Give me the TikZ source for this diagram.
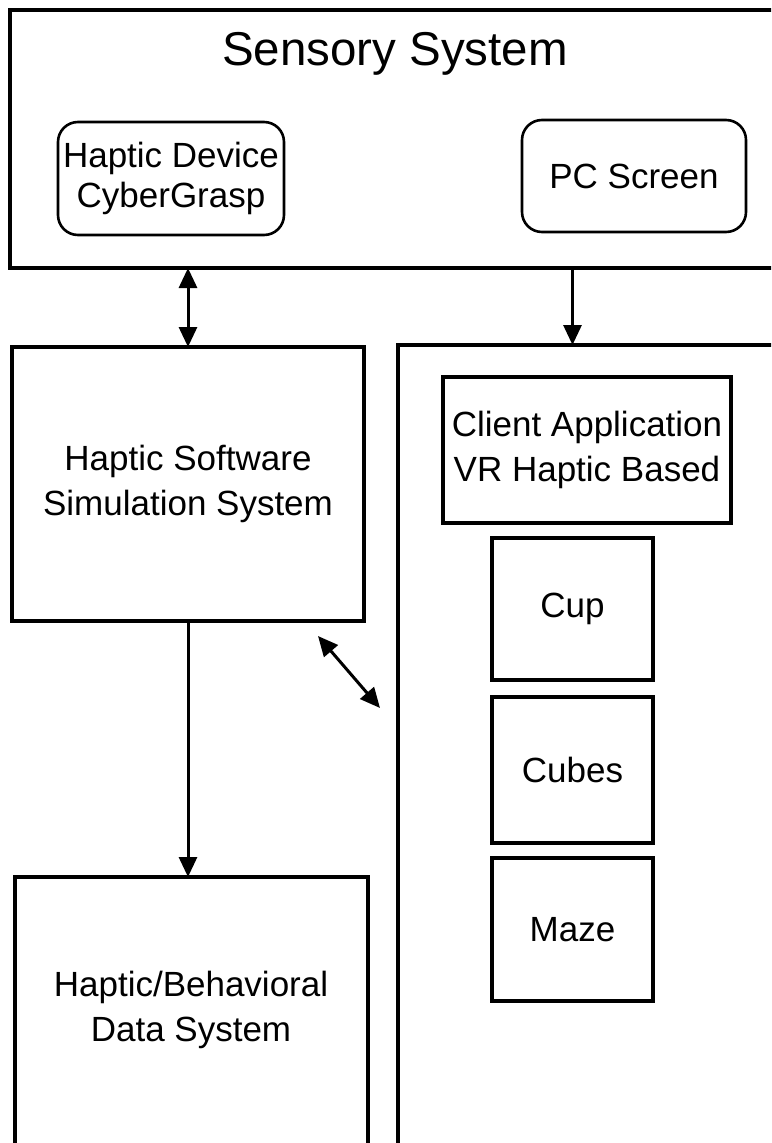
\documentclass[tikz,border=0pt]{standalone}
\usepackage{fontspec}
\setmainfont{Liberation Sans}
\usetikzlibrary{arrows.meta}
\begin{document}
\begin{tikzpicture}[x=1pt,y=-1pt,
  box/.style={draw,line width=3.2pt,inner sep=0pt,outer sep=0pt,align=center,
    font=\fontsize{35}{45}\selectfont},
  roundbox/.style={box,rounded corners=20pt,line width=2.6pt,
    font=\fontsize{35}{40}\selectfont},
  txt/.style={inner sep=0pt,align=center,font=\fontsize{35}{45}\selectfont},
  link/.style={line width=3pt},
  head/.tip={Triangle[length=20pt,width=18pt]},
  tip/.style={link,-head},
  both/.style={link,head-head}]
\useasboundingbox (0,0) rectangle (771,1143);
\clip (0,0) rectangle (771,1143);
\fill[white] (0,0) rectangle (771,1143);

% sensory system frame (runs off the right edge)
\node[box,minimum width=810pt,minimum height=258pt] (sensory) at (415,139) {};
\node[inner sep=0pt,font=\fontsize{47.5}{50}\selectfont] (title) at (395,54) {Sensory System};
\node[roundbox,minimum width=226pt,minimum height=113pt] (device) at (171,178.5)
  {Haptic Device\\CyberGrasp};
\node[roundbox,minimum width=224pt,minimum height=112pt] (screen) at (634,176)
  {PC Screen};

% simulation and data systems
\node[box,minimum width=352pt,minimum height=274pt] (soft) at (188,484)
  {Haptic Software\\Simulation System};
\node[box,minimum width=353pt,minimum height=323pt] (datasys) at (191.5,1038.5) {};
\node[txt] (datatext) at (191,1010) {Haptic/Behavioral\\Data System};

% client application frame (runs off the right and bottom edges)
\node[box,minimum width=422pt,minimum height=855pt] (appframe) at (609,772.5) {};
\node[box,minimum width=288pt,minimum height=146pt] (client) at (587,450)
  {Client Application\\VR Haptic Based};
\node[box,minimum width=161pt,minimum height=142pt] (cup) at (572.5,609) {Cup};
\node[box,minimum width=161pt,minimum height=146pt] (cubes) at (572.5,770) {Cubes};
\node[box,minimum width=161pt,minimum height=143pt] (maze) at (572.5,929.5) {Maze};

% connectors
\draw[both] (soft.north |- sensory.south) -- (soft.north);
\draw[tip] (sensory.south -| cup.north) -- (appframe.north -| cup.north);
\draw[tip] (soft.south) -- (datasys.north -| soft.south);
\coordinate (dA) at (318,636);
\coordinate (dB) at (380,708);
\draw[both] (dA) -- (dB);
\end{tikzpicture}
\end{document}
